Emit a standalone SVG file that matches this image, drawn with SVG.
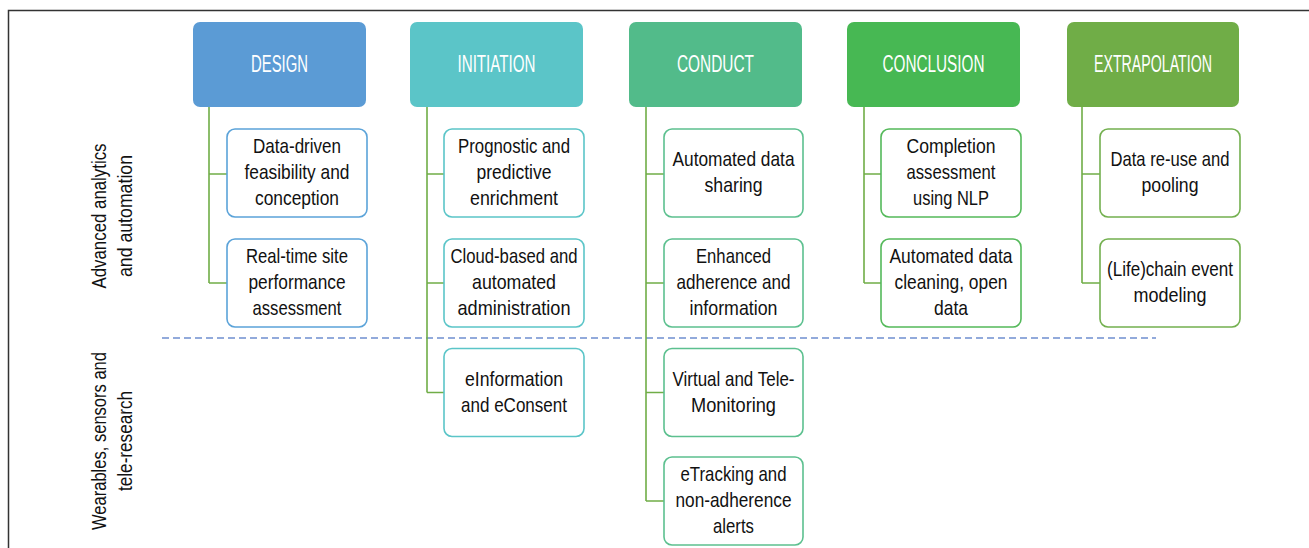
<svg xmlns="http://www.w3.org/2000/svg" width="1309" height="548" viewBox="0 0 1309 548">
<style>
.hl{font-family:"Liberation Sans",Arial,sans-serif;font-size:23px;fill:#ffffff;text-anchor:middle}
.bx{fill:#ffffff;stroke-width:1.6}
.bt{font-family:"Liberation Sans",Arial,sans-serif;font-size:21px;fill:#111111;text-anchor:middle}
.cn{fill:none;stroke:#70ad47;stroke-width:1.6}
</style>
<rect x="0" y="0" width="1309" height="548" fill="#ffffff"/>
<path d="M8.5,548 V10.5 H1309" fill="none" stroke="#333333" stroke-width="1.5"/>
<line x1="162" y1="338" x2="1156" y2="338" stroke="#6f8fcf" stroke-width="1.6" stroke-dasharray="7,4"/>
<g id="label-analytics" transform="translate(106,216) rotate(-90)">
<text class="bt" x="0" y="0" textLength="145" lengthAdjust="spacingAndGlyphs">Advanced analytics</text>
<text class="bt" x="0" y="26" textLength="122" lengthAdjust="spacingAndGlyphs">and automation</text>
</g>
<g id="label-wearables" transform="translate(106,441) rotate(-90)">
<text class="bt" x="0" y="0" textLength="178" lengthAdjust="spacingAndGlyphs">Wearables, sensors and</text>
<text class="bt" x="0" y="26" textLength="100" lengthAdjust="spacingAndGlyphs">tele-research</text>
</g>
<g id="connectors">
<path class="cn" d="M209,107 V283 M209,174 H227 M209,283 H227"/>
<path class="cn" d="M427,107 V392.5 M427,174 H444 M427,283 H444 M427,392.5 H444"/>
<path class="cn" d="M646,107 V501 M646,174 H664 M646,283 H664 M646,392.5 H664 M646,501 H664"/>
<path class="cn" d="M864,107 V283 M864,174 H881 M864,283 H881"/>
<path class="cn" d="M1082,107 V283 M1082,174 H1100 M1082,283 H1100"/>
</g>
<g id="design">
<rect x="193" y="22" width="173" height="85" rx="7" fill="#5b9bd5"/>
<text class="hl" x="279.5" y="72" textLength="57" lengthAdjust="spacingAndGlyphs">DESIGN</text>
</g>
<g id="initiation">
<rect x="410" y="22" width="173" height="85" rx="7" fill="#5bc5c8"/>
<text class="hl" x="496.5" y="72" textLength="78" lengthAdjust="spacingAndGlyphs">INITIATION</text>
</g>
<g id="conduct">
<rect x="629" y="22" width="173" height="85" rx="7" fill="#52bb8a"/>
<text class="hl" x="715.5" y="72" textLength="77" lengthAdjust="spacingAndGlyphs">CONDUCT</text>
</g>
<g id="conclusion">
<rect x="847" y="22" width="173" height="85" rx="7" fill="#47b853"/>
<text class="hl" x="933.5" y="72" textLength="102" lengthAdjust="spacingAndGlyphs">CONCLUSION</text>
</g>
<g id="extrapolation">
<rect x="1067" y="22" width="172" height="85" rx="7" fill="#70ad47"/>
<text class="hl" x="1153" y="72" textLength="118" lengthAdjust="spacingAndGlyphs">EXTRAPOLATION</text>
</g>
<g id="d1"><rect class="bx" x="227" y="129" width="140" height="88" rx="8" stroke="#5ba3d9"/>
<text class="bt" x="297" y="153" textLength="88" lengthAdjust="spacingAndGlyphs">Data-driven</text>
<text class="bt" x="297" y="179" textLength="105" lengthAdjust="spacingAndGlyphs">feasibility and</text>
<text class="bt" x="297" y="205" textLength="84" lengthAdjust="spacingAndGlyphs">conception</text></g>
<g id="d2"><rect class="bx" x="227" y="239" width="140" height="88" rx="8" stroke="#5ba3d9"/>
<text class="bt" x="297" y="263" textLength="102" lengthAdjust="spacingAndGlyphs">Real-time site</text>
<text class="bt" x="297" y="289" textLength="97" lengthAdjust="spacingAndGlyphs">performance</text>
<text class="bt" x="297" y="315" textLength="89" lengthAdjust="spacingAndGlyphs">assessment</text></g>
<g id="i1"><rect class="bx" x="444" y="129" width="140" height="88" rx="8" stroke="#5bc5c8"/>
<text class="bt" x="514" y="153" textLength="112" lengthAdjust="spacingAndGlyphs">Prognostic and</text>
<text class="bt" x="514" y="179" textLength="75" lengthAdjust="spacingAndGlyphs">predictive</text>
<text class="bt" x="514" y="205" textLength="88" lengthAdjust="spacingAndGlyphs">enrichment</text></g>
<g id="i2"><rect class="bx" x="444" y="239" width="140" height="88" rx="8" stroke="#5bc5c8"/>
<text class="bt" x="514" y="263" textLength="127" lengthAdjust="spacingAndGlyphs">Cloud-based and</text>
<text class="bt" x="514" y="289" textLength="84" lengthAdjust="spacingAndGlyphs">automated</text>
<text class="bt" x="514" y="315" textLength="113" lengthAdjust="spacingAndGlyphs">administration</text></g>
<g id="i3"><rect class="bx" x="444" y="348.5" width="140" height="88" rx="8" stroke="#5bc5c8"/>
<text class="bt" x="514" y="385.5" textLength="98" lengthAdjust="spacingAndGlyphs">eInformation</text>
<text class="bt" x="514" y="411.5" textLength="106" lengthAdjust="spacingAndGlyphs">and eConsent</text></g>
<g id="c1"><rect class="bx" x="664" y="129" width="139" height="88" rx="8" stroke="#5cc08f"/>
<text class="bt" x="733.5" y="166" textLength="122" lengthAdjust="spacingAndGlyphs">Automated data</text>
<text class="bt" x="733.5" y="192" textLength="58" lengthAdjust="spacingAndGlyphs">sharing</text></g>
<g id="c2"><rect class="bx" x="664" y="239" width="139" height="88" rx="8" stroke="#5cc08f"/>
<text class="bt" x="733.5" y="263" textLength="75" lengthAdjust="spacingAndGlyphs">Enhanced</text>
<text class="bt" x="733.5" y="289" textLength="114" lengthAdjust="spacingAndGlyphs">adherence and</text>
<text class="bt" x="733.5" y="315" textLength="88" lengthAdjust="spacingAndGlyphs">information</text></g>
<g id="c3"><rect class="bx" x="664" y="348.5" width="139" height="88" rx="8" stroke="#5cc08f"/>
<text class="bt" x="733.5" y="385.5" textLength="122" lengthAdjust="spacingAndGlyphs">Virtual and Tele-</text>
<text class="bt" x="733.5" y="411.5" textLength="85" lengthAdjust="spacingAndGlyphs">Monitoring</text></g>
<g id="c4"><rect class="bx" x="664" y="457" width="139" height="88" rx="8" stroke="#5cc08f"/>
<text class="bt" x="733.5" y="481" textLength="106" lengthAdjust="spacingAndGlyphs">eTracking and</text>
<text class="bt" x="733.5" y="507" textLength="116" lengthAdjust="spacingAndGlyphs">non-adherence</text>
<text class="bt" x="733.5" y="533" textLength="41" lengthAdjust="spacingAndGlyphs">alerts</text></g>
<g id="k1"><rect class="bx" x="881" y="129" width="140" height="88" rx="8" stroke="#54b95a"/>
<text class="bt" x="951" y="153" textLength="89" lengthAdjust="spacingAndGlyphs">Completion</text>
<text class="bt" x="951" y="179" textLength="89" lengthAdjust="spacingAndGlyphs">assessment</text>
<text class="bt" x="951" y="205" textLength="76" lengthAdjust="spacingAndGlyphs">using NLP</text></g>
<g id="k2"><rect class="bx" x="881" y="239" width="140" height="88" rx="8" stroke="#54b95a"/>
<text class="bt" x="951" y="263" textLength="123" lengthAdjust="spacingAndGlyphs">Automated data</text>
<text class="bt" x="951" y="289" textLength="113" lengthAdjust="spacingAndGlyphs">cleaning, open</text>
<text class="bt" x="951" y="315" textLength="34" lengthAdjust="spacingAndGlyphs">data</text></g>
<g id="e1"><rect class="bx" x="1100" y="129" width="140" height="88" rx="8" stroke="#73b04f"/>
<text class="bt" x="1170" y="166" textLength="119" lengthAdjust="spacingAndGlyphs">Data re-use and</text>
<text class="bt" x="1170" y="192" textLength="57" lengthAdjust="spacingAndGlyphs">pooling</text></g>
<g id="e2"><rect class="bx" x="1100" y="239" width="140" height="88" rx="8" stroke="#73b04f"/>
<text class="bt" x="1170" y="276" textLength="126" lengthAdjust="spacingAndGlyphs">(Life)chain event</text>
<text class="bt" x="1170" y="302" textLength="73" lengthAdjust="spacingAndGlyphs">modeling</text></g>
</svg>
